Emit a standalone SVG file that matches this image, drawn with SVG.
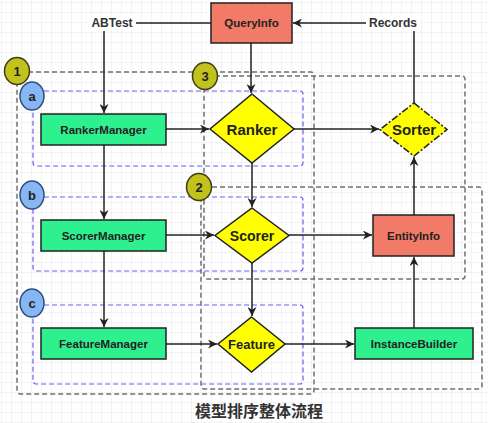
<svg xmlns="http://www.w3.org/2000/svg" width="488" height="423" viewBox="0 0 488 423">
<style>
text{font-family:"Liberation Sans",Arial,sans-serif;font-weight:bold;fill:#222;text-anchor:middle;dominant-baseline:central}
.grp{fill:none;stroke:#707070;stroke-width:1.5;stroke-dasharray:5 3}
.sub{fill:none;stroke:#6a5cf0;stroke-width:1.2;stroke-dasharray:5 3}
.ol{fill:#c2c21c;stroke:#3d3d1a;stroke-width:1.5}
.bl{fill:#86b6f3;stroke:#2f4f80;stroke-width:1.5}
.gr{fill:#2ef08f;stroke:#222;stroke-width:1.5}
.rd{fill:#f27a68;stroke:#222;stroke-width:1.5}
.yl{fill:#ffff00;stroke:#222;stroke-width:1.5}
.e{fill:none;stroke:#222;stroke-width:1.5}
.lbl{font-size:12px;fill:#333}
.bx{font-size:11.5px}
.dm{font-size:14px}
.cn{font-size:13px}
</style>
<defs>
<pattern id="g" width="10" height="10" patternUnits="userSpaceOnUse" x="2" y="3">
<path d="M10 0V10M0 10H10" fill="none" stroke="#e6e6e6" stroke-width="1"/>
</pattern>
<marker id="a" viewBox="0 0 10 10" refX="10" refY="5" markerWidth="9" markerHeight="9" markerUnits="userSpaceOnUse" orient="auto">
<path d="M0,0 L10,5 L0,10 L3,5 z" fill="#222"/>
</marker>
</defs>
<rect width="488" height="423" fill="#fff"/>
<rect width="488" height="423" fill="url(#g)"/>

<g id="containers">
<rect class="grp" x="17" y="72" width="297" height="322" rx="3"/>
<rect class="grp" x="204" y="76" width="261" height="203" rx="3"/>
<rect class="grp" x="201" y="187" width="281" height="202" rx="3"/>
<rect class="sub" x="33" y="91" width="270" height="75" rx="3"/>
<rect class="sub" x="33" y="197" width="270" height="74" rx="3"/>
<rect class="sub" x="33" y="305" width="270" height="79" rx="3"/>
</g>

<g id="connectors">
<path class="e" d="M211,23 H104 V113" marker-end="url(#a)"/>
<path class="e" d="M414,103 V23 H293" marker-end="url(#a)"/>
<path class="e" d="M251,43 V93" marker-end="url(#a)"/>
<path class="e" d="M166,129 H209" marker-end="url(#a)"/>
<path class="e" d="M294,129 H379" marker-end="url(#a)"/>
<path class="e" d="M252,163 V207" marker-end="url(#a)"/>
<path class="e" d="M104,145 V219" marker-end="url(#a)"/>
<path class="e" d="M166,235 H214" marker-end="url(#a)"/>
<path class="e" d="M289,235 H372" marker-end="url(#a)"/>
<path class="e" d="M252,263 V316" marker-end="url(#a)"/>
<path class="e" d="M104,251 V327" marker-end="url(#a)"/>
<path class="e" d="M166,344 H217" marker-end="url(#a)"/>
<path class="e" d="M285,344 H354" marker-end="url(#a)"/>
<path class="e" d="M414,328 V257" marker-end="url(#a)"/>
<path class="e" d="M414,215 V157" marker-end="url(#a)"/>
<rect x="88" y="15" width="48" height="16" fill="#fff"/>
<text class="lbl" x="112" y="23">ABTest</text>
<rect x="366" y="15" width="54" height="16" fill="#fff"/>
<text class="lbl" x="393" y="23">Records</text>
</g>

<g id="c1"><ellipse class="ol" cx="17" cy="71" rx="12.5" ry="13.5"/><text class="cn" x="17" y="71">1</text></g>
<g id="c3"><ellipse class="ol" cx="205" cy="76" rx="12.5" ry="13.5"/><text class="cn" x="205" y="76">3</text></g>
<g id="c2"><ellipse class="ol" cx="199" cy="187" rx="12.5" ry="13.5"/><text class="cn" x="199" y="187">2</text></g>
<g id="ca"><ellipse class="bl" cx="32" cy="96" rx="12" ry="14"/><text class="cn" x="32" y="96">a</text></g>
<g id="cb"><ellipse class="bl" cx="32" cy="195" rx="12" ry="14"/><text class="cn" x="32" y="195">b</text></g>
<g id="cc"><ellipse class="bl" cx="32" cy="303" rx="12" ry="14"/><text class="cn" x="32" y="303">c</text></g>

<g id="QueryInfo"><rect class="rd" x="211" y="3" width="81" height="40"/><text class="bx" x="251.5" y="23">QueryInfo</text></g>
<g id="RankerManager"><rect class="gr" x="41" y="114" width="125" height="31"/><text class="bx" x="103.5" y="129.5">RankerManager</text></g>
<g id="ScorerManager"><rect class="gr" x="41" y="220" width="125" height="31"/><text class="bx" x="103.5" y="235.5">ScorerManager</text></g>
<g id="FeatureManager"><rect class="gr" x="41" y="328" width="125" height="31"/><text class="bx" x="103.5" y="343.5">FeatureManager</text></g>
<g id="Ranker"><polygon class="yl" points="252,94 294,129 252,163 210,129"/><text class="dm" x="252" y="129" style="font-size:15px">Ranker</text></g>
<g id="Scorer"><polygon class="yl" points="252,208 289,235.5 252,263 215,235.5"/><text class="dm" x="252" y="235.5">Scorer</text></g>
<g id="Feature"><polygon class="yl" points="251.5,317 285,344 251.5,372 218,344"/><text class="dm" x="251.5" y="344" style="font-size:13px">Feature</text></g>
<g id="Sorter"><polygon class="yl" points="414,103 447,129.5 414,156 380,129.5" style="stroke-dasharray:7 2 2 2"/><text class="dm" x="414" y="129.5" style="font-size:15px">Sorter</text></g>
<g id="EntityInfo"><rect class="rd" x="373" y="215" width="81" height="41"/><text class="bx" x="413.5" y="235.5">EntityInfo</text></g>
<g id="InstanceBuilder"><rect class="gr" x="355" y="328" width="118" height="31"/><text class="bx" x="414" y="343.5">InstanceBuilder</text></g>

<text x="259" y="411" style="font-family:'Liberation Sans','Noto Sans CJK SC',sans-serif;font-size:16px;fill:#333">模型排序整体流程</text>
</svg>
